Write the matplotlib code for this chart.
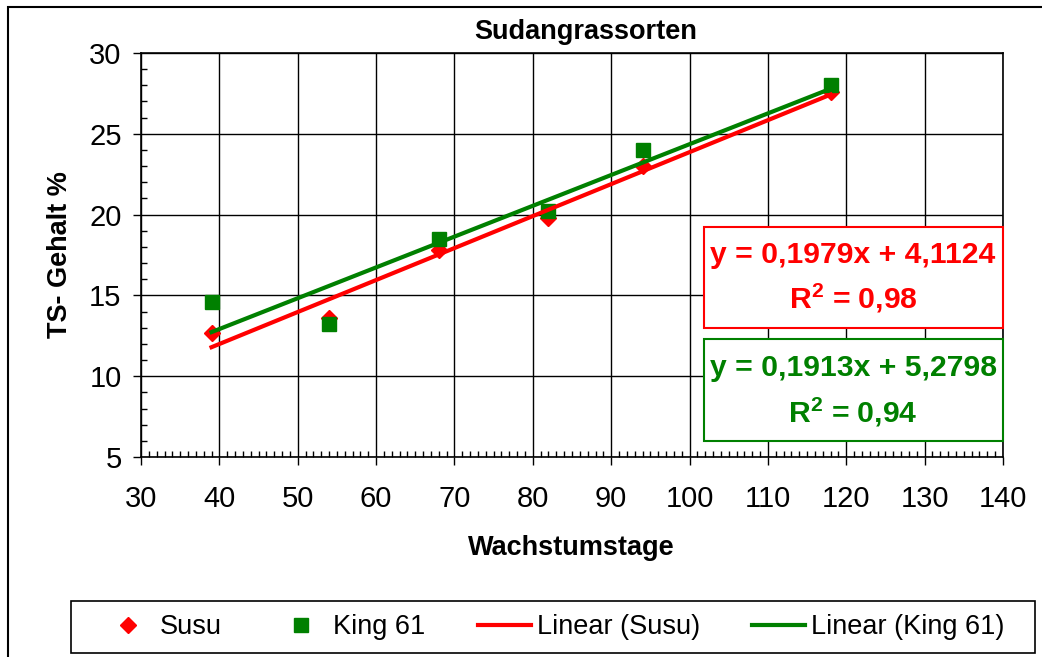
import numpy as np
import matplotlib
matplotlib.use('Agg')
import matplotlib.pyplot as plt
from matplotlib.patches import Rectangle
from matplotlib.ticker import MultipleLocator

plt.rcParams['font.family'] = ['Liberation Sans', 'DejaVu Sans']
plt.rcParams['mathtext.fontset'] = 'custom'
plt.rcParams['mathtext.rm'] = 'Liberation Sans'
plt.rcParams['mathtext.bf'] = 'Liberation Sans:bold'

# --- DATA ---
tage = [39, 54, 68, 82, 94, 118]
susu = [12.7, 13.6, 17.8, 19.8, 23.0, 27.6]
king = [14.6, 13.2, 18.5, 20.2, 24.0, 28.0]
series_names = ['Susu', 'King 61']
eq_susu = 'y = 0,1979x + 4,1124'
r2_susu = r'R$^\mathbf{2}$ = 0,98'
eq_king = 'y = 0,1913x + 5,2798'
r2_king = r'R$^\mathbf{2}$ = 0,94'

RED = '#ff0000'
GREEN = '#008000'

W, H = 1042, 657
fig = plt.figure(figsize=(W / 100, H / 100), dpi=100)


def fx(px):
    return px / W


def fy(py):
    return 1 - py / H


# outer chart border (runs off the right / bottom edge)
fig.patches.append(Rectangle((fx(8), -0.1), 1.2, fy(7) + 0.1, transform=fig.transFigure,
                             fill=False, edgecolor='black', linewidth=1.5))

ax = fig.add_axes([fx(141), fy(457), fx(1003) - fx(141), fy(53) - fy(457)])

# markers
ax.plot(tage, susu, linestyle='none', marker='D', markersize=8, color=RED, label=series_names[0], zorder=3)
ax.plot(tage, king, linestyle='none', marker='s', markersize=10, color=GREEN, label=series_names[1], zorder=3)

# linear trend lines
xs = np.array([min(tage), max(tage)])
p_s = np.polyfit(tage, susu, 1)
p_k = np.polyfit(tage, king, 1)
ax.plot(xs, np.polyval(p_s, xs), color=RED, linewidth=3, label='Linear (Susu)', zorder=4)
ax.plot(xs, np.polyval(p_k, xs), color=GREEN, linewidth=3, label='Linear (King 61)', zorder=4)

ax.set_xlim(30, 140)
ax.set_ylim(5, 30)
ax.xaxis.set_major_locator(MultipleLocator(10))
ax.xaxis.set_minor_locator(MultipleLocator(1))
ax.yaxis.set_major_locator(MultipleLocator(5))
ax.yaxis.set_minor_locator(MultipleLocator(1))
ax.grid(True, which='major', color='black', linewidth=1)
ax.set_axisbelow(True)
ax.tick_params(which='major', direction='out', length=6, width=1, labelsize=21, pad=8)
ax.tick_params(axis='x', which='major', pad=14)
ax.tick_params(which='minor', direction='in', length=4, width=1)
for sp in ax.spines.values():
    sp.set_color('black')
    sp.set_linewidth(1.2)

fig.text(fx(586), fy(32), 'Sudangrassorten', ha='center', va='center', fontsize=19.5, fontweight='bold')
fig.text(fx(571), fy(548), 'Wachstumstage', ha='center', va='center', fontsize=19.5, fontweight='bold')
fig.text(fx(60), fy(255), 'TS- Gehalt %', ha='center', va='center', rotation=90, fontsize=19.5, fontweight='bold')

# regression label boxes
fig.patches.append(Rectangle((fx(704), fy(328)), fx(1003) - fx(704), fy(227) - fy(328),
                             transform=fig.transFigure, facecolor='white', edgecolor=RED, linewidth=1.5, zorder=5))
fig.patches.append(Rectangle((fx(704), fy(441)), fx(1003) - fx(704), fy(339) - fy(441),
                             transform=fig.transFigure, facecolor='white', edgecolor=GREEN, linewidth=1.5, zorder=5))
fig.text(fx(853), fy(255), eq_susu, ha='center', va='center', fontsize=21.7, fontweight='bold', color=RED, zorder=6)
fig.text(fx(853), fy(298), r2_susu, ha='center', va='center', fontsize=21.7, fontweight='bold', color=RED, zorder=6)
fig.text(fx(853), fy(368), eq_king, ha='center', va='center', fontsize=21.7, fontweight='bold', color=GREEN, zorder=6)
fig.text(fx(853), fy(412), r2_king, ha='center', va='center', fontsize=21.7, fontweight='bold', color=GREEN, zorder=6)

# legend
fig.patches.append(Rectangle((fx(71), fy(653)), fx(1035) - fx(71), fy(601) - fy(653),
                             transform=fig.transFigure, fill=False, edgecolor='black', linewidth=1.2))
fig.legend(loc='center', bbox_to_anchor=(fx(553), fy(627)), ncol=4, frameon=False, fontsize=19.5,
           handlelength=1.95, handletextpad=0.2, columnspacing=1.95, borderpad=0.2)

fig.savefig('out.png', dpi=100)
